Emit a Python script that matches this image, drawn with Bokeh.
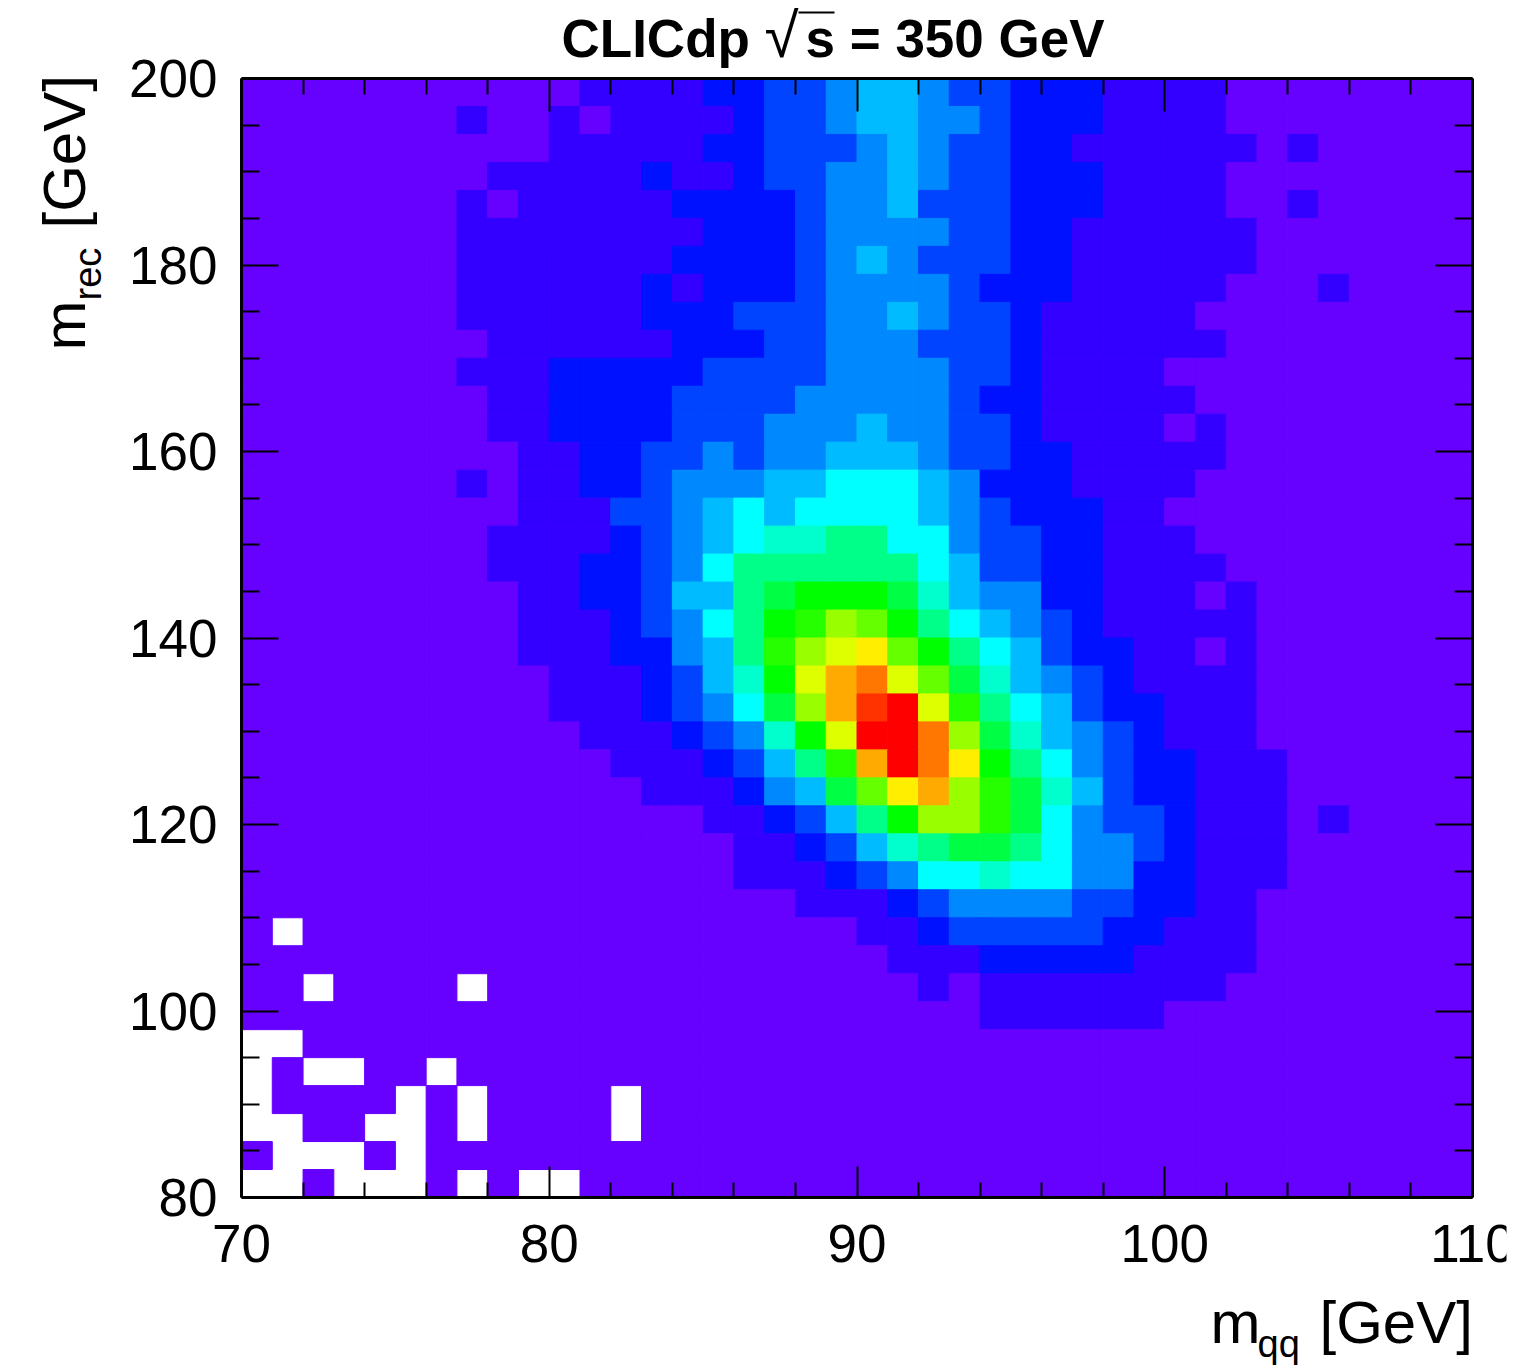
from bokeh.plotting import figure
from bokeh.models import Range1d, LinearAxis, FixedTicker, Label, BoxAnnotation, ColumnDataSource
from bokeh.embed import file_html
from bokeh.resources import INLINE

x_major = [70, 80, 90, 100, 110]
x_minor = [72, 74, 76, 78, 82, 84, 86, 88, 92, 94, 96, 98, 102, 104, 106, 108]
y_major = [80, 100, 120, 140, 160, 180, 200]
y_minor = [85, 90, 95, 105, 110, 115, 125, 130, 135, 145, 150, 155, 165, 170, 175, 185, 190, 195]

x_start, x_step = 70, 1
y_top, y_step = 200, 3

palette = ["#6600ff", "#3300ff", "#0011ff", "#0044ff", "#0088ff", "#00bbff", "#00ffff",
           "#00ffcc", "#00ff88", "#00ff44", "#00ff00", "#26ff00", "#66ff00", "#99ff00",
           "#ddff00", "#ffee00", "#ffaa00", "#ff7700", "#ff3300", "#ff0000"]

# colour level of every bin, top row first; -1 = empty bin
_ = -1
bin_levels = [
 [0,0,0,0,0,0,0,0,0,0, 0,1,1,1,1,2,2,3,3,4, 5,5,4,3,3,2,2,2,1,1, 1,1,0,0,0,0,0,0,0,0],
 [0,0,0,0,0,0,0,1,0,0, 1,0,1,1,1,1,2,3,3,4, 5,5,4,4,3,2,2,2,1,1, 1,1,0,0,0,0,0,0,0,0],
 [0,0,0,0,0,0,0,0,0,0, 1,1,1,1,1,2,2,3,3,3, 4,5,4,3,3,2,2,1,1,1, 1,1,1,0,1,0,0,0,0,0],
 [0,0,0,0,0,0,0,0,1,1, 1,1,1,2,1,1,2,3,3,4, 4,5,4,3,3,2,2,2,1,1, 1,1,0,0,0,0,0,0,0,0],
 [0,0,0,0,0,0,0,1,0,1, 1,1,1,1,2,2,2,2,3,4, 4,5,3,3,3,2,2,2,1,1, 1,1,0,0,1,0,0,0,0,0],
 [0,0,0,0,0,0,0,1,1,1, 1,1,1,1,1,2,2,2,3,4, 4,4,4,3,3,2,2,1,1,1, 1,1,1,0,0,0,0,0,0,0],
 [0,0,0,0,0,0,0,1,1,1, 1,1,1,1,2,2,2,2,3,4, 5,4,3,3,3,2,2,1,1,1, 1,1,1,0,0,0,0,0,0,0],
 [0,0,0,0,0,0,0,1,1,1, 1,1,1,2,1,2,2,2,3,4, 4,4,4,3,2,2,2,1,1,1, 1,1,0,0,0,1,0,0,0,0],
 [0,0,0,0,0,0,0,1,1,1, 1,1,1,2,2,2,3,3,3,4, 4,5,4,3,3,2,1,1,1,1, 1,0,0,0,0,0,0,0,0,0],
 [0,0,0,0,0,0,0,0,1,1, 1,1,1,1,2,2,2,3,3,4, 4,4,3,3,3,2,1,1,1,1, 1,1,0,0,0,0,0,0,0,0],
 [0,0,0,0,0,0,0,1,1,1, 2,2,2,2,2,3,3,3,3,4, 4,4,4,3,3,2,1,1,1,1, 0,0,0,0,0,0,0,0,0,0],
 [0,0,0,0,0,0,0,0,1,1, 2,2,2,2,3,3,3,3,4,4, 4,4,4,3,2,2,1,1,1,1, 1,0,0,0,0,0,0,0,0,0],
 [0,0,0,0,0,0,0,0,1,1, 2,2,2,2,3,3,3,4,4,4, 5,4,4,3,3,2,1,1,1,1, 0,1,0,0,0,0,0,0,0,0],
 [0,0,0,0,0,0,0,0,0,1, 1,2,2,3,3,4,3,4,4,5, 5,5,4,3,3,2,2,1,1,1, 1,1,0,0,0,0,0,0,0,0],
 [0,0,0,0,0,0,0,1,0,1, 1,2,2,3,4,4,4,5,5,6, 6,6,5,4,2,2,2,1,1,1, 1,0,0,0,0,0,0,0,0,0],
 [0,0,0,0,0,0,0,0,0,1, 1,1,3,3,4,5,6,5,6,6, 6,6,5,4,3,2,2,2,1,1, 0,0,0,0,0,0,0,0,0,0],
 [0,0,0,0,0,0,0,0,1,1, 1,1,2,3,4,5,6,7,7,8, 8,6,6,4,3,3,2,2,1,1, 1,0,0,0,0,0,0,0,0,0],
 [0,0,0,0,0,0,0,0,1,1, 1,2,2,3,4,6,8,8,8,8, 8,8,6,5,3,3,2,2,1,1, 1,1,0,0,0,0,0,0,0,0],
 [0,0,0,0,0,0,0,0,0,1, 1,2,2,3,5,5,8,9,10,10, 10,9,7,5,4,4,2,2,1,1, 1,0,1,0,0,0,0,0,0,0],
 [0,0,0,0,0,0,0,0,0,1, 1,1,2,3,4,6,8,10,11,13, 12,10,8,6,5,4,3,2,1,1, 1,1,1,0,0,0,0,0,0,0],
 [0,0,0,0,0,0,0,0,0,1, 1,1,2,2,4,5,8,11,13,14, 15,12,10,8,6,5,3,2,2,1, 1,0,1,0,0,0,0,0,0,0],
 [0,0,0,0,0,0,0,0,0,0, 1,1,1,2,3,5,7,10,14,16, 17,14,12,9,7,5,4,3,2,1, 1,1,1,0,0,0,0,0,0,0],
 [0,0,0,0,0,0,0,0,0,0, 1,1,1,2,3,4,6,9,13,16, 18,19,14,11,8,6,5,3,2,2, 1,1,1,0,0,0,0,0,0,0],
 [0,0,0,0,0,0,0,0,0,0, 0,1,1,1,2,3,4,7,10,14, 19,19,17,13,9,7,5,4,3,2, 1,1,1,0,0,0,0,0,0,0],
 [0,0,0,0,0,0,0,0,0,0, 0,0,1,1,1,2,3,5,8,11, 16,19,17,15,10,8,6,4,3,2, 2,1,1,1,0,0,0,0,0,0],
 [0,0,0,0,0,0,0,0,0,0, 0,0,0,1,1,1,2,4,5,9, 12,15,16,13,11,9,7,5,3,2, 2,1,1,1,0,0,0,0,0,0],
 [0,0,0,0,0,0,0,0,0,0, 0,0,0,0,0,1,1,2,3,5, 8,10,13,13,11,9,6,4,3,3, 2,1,1,1,0,1,0,0,0,0],
 [0,0,0,0,0,0,0,0,0,0, 0,0,0,0,0,0,1,1,2,3, 5,7,8,9,9,8,6,4,4,3, 2,1,1,1,0,0,0,0,0,0],
 [0,0,0,0,0,0,0,0,0,0, 0,0,0,0,0,0,1,1,1,2, 3,4,6,6,7,6,6,4,4,2, 2,1,1,1,0,0,0,0,0,0],
 [0,0,0,0,0,0,0,0,0,0, 0,0,0,0,0,0,0,0,1,1, 1,2,3,4,4,4,4,3,3,2, 2,1,1,0,0,0,0,0,0,0],
 [0,_,0,0,0,0,0,0,0,0, 0,0,0,0,0,0,0,0,0,0, 1,1,2,3,3,3,3,3,2,2, 1,1,1,0,0,0,0,0,0,0],
 [0,0,0,0,0,0,0,0,0,0, 0,0,0,0,0,0,0,0,0,0, 0,1,1,1,2,2,2,2,2,1, 1,1,1,0,0,0,0,0,0,0],
 [0,0,_,0,0,0,0,_,0,0, 0,0,0,0,0,0,0,0,0,0, 0,0,1,0,1,1,1,1,1,1, 1,1,0,0,0,0,0,0,0,0],
 [0,0,0,0,0,0,0,0,0,0, 0,0,0,0,0,0,0,0,0,0, 0,0,0,0,1,1,1,1,1,1, 0,0,0,0,0,0,0,0,0,0],
 [_,_,0,0,0,0,0,0,0,0, 0,0,0,0,0,0,0,0,0,0, 0,0,0,0,0,0,0,0,0,0, 0,0,0,0,0,0,0,0,0,0],
 [_,0,_,_,0,0,_,0,0,0, 0,0,0,0,0,0,0,0,0,0, 0,0,0,0,0,0,0,0,0,0, 0,0,0,0,0,0,0,0,0,0],
 [_,0,0,0,0,_,0,_,0,0, 0,0,_,0,0,0,0,0,0,0, 0,0,0,0,0,0,0,0,0,0, 0,0,0,0,0,0,0,0,0,0],
 [_,_,0,0,_,_,0,_,0,0, 0,0,_,0,0,0,0,0,0,0, 0,0,0,0,0,0,0,0,0,0, 0,0,0,0,0,0,0,0,0,0],
 [0,_,_,_,0,_,0,0,0,0, 0,0,0,0,0,0,0,0,0,0, 0,0,0,0,0,0,0,0,0,0, 0,0,0,0,0,0,0,0,0,0],
 [_,_,0,_,_,_,0,_,0,_, _,0,0,0,0,0,0,0,0,0, 0,0,0,0,0,0,0,0,0,0, 0,0,0,0,0,0,0,0,0,0],
]
for r in bin_levels:
    assert len(r) == 40

left, right, top, bottom, colors = [], [], [], [], []
for j, row in enumerate(bin_levels):
    for i, lev in enumerate(row):
        if lev < 0:
            continue
        left.append(x_start + i * x_step)
        right.append(x_start + (i + 1) * x_step)
        top.append(y_top - j * y_step)
        bottom.append(y_top - (j + 1) * y_step)
        colors.append(palette[lev])
src = ColumnDataSource(dict(left=left, right=right, top=top, bottom=bottom, color=colors))

# The frame fills the whole canvas, so that titles may sit anywhere on it; the axes sit at fixed places.
W, H = 1516, 1372
PL, PR, PT, PB = 241, 1472, 78, 1197
sx = (PR - PL) / 40
sy = (PB - PT) / 120
p = figure(width=W, height=H, output_backend="svg", toolbar_location=None,
           x_range=Range1d(70 - PL / sx, 70 + (W - PL) / sx),
           y_range=Range1d(80 - (H - PB) / sy, 80 + PB / sy),
           min_border=0, x_axis_location=None, y_axis_location=None,
           background_fill_color="white", border_fill_color="white")
p.grid.visible = False
p.outline_line_color = None
p.quad(left="left", right="right", top="top", bottom="bottom", fill_color="color",
       line_color="color", line_width=1, source=src)

FONT = "Liberation Sans"

def make_axis(major, minor, mlen, nlen, labels, location, bounds, standoff=0):
    ax = LinearAxis(ticker=FixedTicker(ticks=major, minor_ticks=minor),
                    fixed_location=location, bounds=bounds)
    ax.major_tick_in = mlen
    ax.major_tick_out = 0
    ax.minor_tick_in = nlen
    ax.minor_tick_out = 0
    ax.major_tick_line_width = 2
    ax.minor_tick_line_width = 2
    ax.major_tick_line_color = "black"
    ax.minor_tick_line_color = "black"
    ax.axis_line_width = 3
    ax.axis_line_color = "black"
    ax.major_label_standoff = standoff
    ax.major_label_text_font = FONT
    ax.major_label_text_font_size = "53px"
    ax.major_label_text_color = "black"
    if not labels:
        ax.major_label_overrides = {t: "" for t in major}
    return ax

p.add_layout(make_axis(x_major, x_minor, 31, 15, True, 80, (70, 110), 27), "below")
p.add_layout(make_axis(y_major, y_minor, 37, 18, True, 70, (80, 200), 24), "left")
p.add_layout(make_axis(x_major, x_minor, 33, 16, False, 200, (70, 110)), "above")
p.add_layout(make_axis(y_major, y_minor, 37, 18, False, 110, (80, 200)), "right")

BASE = 0.4  # the label's baseline falls this share of the font size below the anchor

def lab(text, X, Y, size, bold=False, angle=0):
    if angle:
        X -= BASE * size
    else:
        Y -= BASE * size
    p.add_layout(Label(x=X, y=H - Y, x_units="screen", y_units="screen", text=text,
                       text_font=FONT, text_font_size=f"{size}px",
                       text_font_style="bold" if bold else "normal",
                       text_color="black", text_align="left", text_baseline="alphabetic",
                       angle=angle, angle_units="deg"))

def box(x0, x1, y0, y1, color):
    p.add_layout(BoxAnnotation(left=x0, right=x1, top=H - y0, bottom=H - y1,
                               left_units="screen", right_units="screen", top_units="screen",
                               bottom_units="screen", fill_color=color, fill_alpha=1,
                               line_color=None, level="overlay"))

lab("CLICdp", 561, 59, 53, bold=True)
lab("\u221a", 764, 60, 62)
box(798, 834, 11, 13, "black")
lab("s = 350 GeV", 805, 59, 53, bold=True)

lab("m", 1210, 1346, 60)
lab("qq", 1257, 1359, 38)
lab("[GeV]", 1319, 1346, 60)

lab("m", 88, 350, 60, angle=90)
lab("rec", 103, 300, 38, angle=90)
lab("[GeV]", 88, 228, 60, angle=90)

# the reference's page ends here and cuts the last tick label
box(1506, W, 1200, 1300, "white")

open("out.html", "w").write(file_html(p, INLINE))
